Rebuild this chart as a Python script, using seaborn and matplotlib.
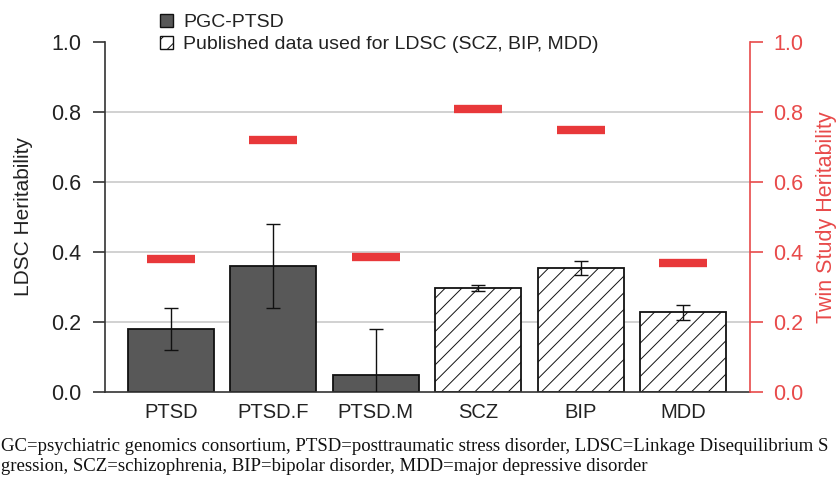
import numpy as np
import pandas as pd
import matplotlib
matplotlib.use("Agg")
import matplotlib.pyplot as plt
import seaborn as sns
from matplotlib.patches import Patch

categories = ["PTSD", "PTSD.F", "PTSD.M", "SCZ", "BIP", "MDD"]
groups = ["PGC-PTSD", "PGC-PTSD", "PGC-PTSD",
          "Published data used for LDSC (SCZ, BIP, MDD)",
          "Published data used for LDSC (SCZ, BIP, MDD)",
          "Published data used for LDSC (SCZ, BIP, MDD)"]
ldsc_h2 = [0.18, 0.36, 0.05, 0.298, 0.354, 0.228]
err_low = [0.12, 0.24, -0.08, 0.290, 0.335, 0.207]
err_high = [0.24, 0.48, 0.18, 0.306, 0.373, 0.250]
twin_h2 = [0.38, 0.72, 0.385, 0.81, 0.75, 0.37]
yticks = [0.0, 0.2, 0.4, 0.6, 0.8, 1.0]
caption = ["GC=psychiatric genomics consortium, PTSD=posttraumatic stress disorder, LDSC=Linkage Disequilibrium S",
           "gression, SCZ=schizophrenia, BIP=bipolar disorder, MDD=major depressive disorder"]

df = pd.DataFrame({"cat": categories, "h2": ldsc_h2, "group": groups,
                   "lo": err_low, "hi": err_high, "twin": twin_h2})

sns.set_style("white")
plt.rcParams["font.family"] = ["Liberation Sans", "DejaVu Sans"]
plt.rcParams["hatch.linewidth"] = 0.7

RED = "#e8383a"
RED_AX = "#e84a4a"
DARK = "#585858"
TXT = "#222222"

fig = plt.figure(figsize=(8.4, 4.78), dpi=100)
ax = fig.add_axes([105 / 840, 86 / 478, 645 / 840, 350 / 478])

g1 = groups[0]
g2 = groups[3]
sns.barplot(data=df, x="cat", y="h2", hue="group", dodge=False,
            palette={g1: DARK, g2: "white"}, width=0.84,
            edgecolor="#111111", linewidth=1.3, errorbar=None, legend=False, ax=ax)
for p in ax.patches:
    fc = p.get_facecolor()
    if fc[0] > 0.9:
        p.set_hatch("//")

xpos = np.arange(len(categories))
mid = np.array(ldsc_h2)
ax.errorbar(xpos, mid, yerr=[mid - np.array(err_low), np.array(err_high) - mid],
            fmt="none", ecolor="#111111", elinewidth=1.0, capsize=5, capthick=1.0, zorder=5)

ax.set_xlim(-0.645, 5.655)
ax.set_ylim(0, 1.0)
ax.set_yticks(yticks)
ax.set_yticklabels([f"{v:.1f}" for v in yticks], fontsize=15.5, color=TXT)
ax.tick_params(axis="y", direction="out", length=9, width=1.2, color="#333333", pad=8, left=True)
ax.tick_params(axis="x", length=0, pad=8, labelsize=14.5, labelcolor=TXT)
ax.set_xlabel("")
ax.set_ylabel("LDSC Heritability", fontsize=15, color=TXT, labelpad=13)
ax.yaxis.grid(True, color="#c9c9c9", linewidth=1.2)
ax.set_axisbelow(True)
for gl, v in zip(ax.yaxis.get_gridlines(), yticks):
    if v in (0.0, 1.0):
        gl.set_visible(False)
ax.spines["top"].set_visible(False)
ax.spines["right"].set_visible(False)
for s in ["left", "bottom"]:
    ax.spines[s].set_color("#333333")
    ax.spines[s].set_linewidth(1.2)

ax2 = ax.twinx()
ax2.set_ylim(0, 1.0)
ax2.hlines(twin_h2, xpos - 0.235, xpos + 0.235, colors=RED, linewidth=6, zorder=6)
ax2.set_yticks(yticks)
ax2.set_yticklabels([f"{v:.1f}" for v in yticks], fontsize=15.5, color=RED_AX)
ax2.tick_params(axis="y", direction="out", length=9, width=1.2, color=RED_AX, pad=8, right=True)
ax2.set_ylabel("Twin Study Heritability", fontsize=15.5, color=RED_AX, labelpad=9)
for s in ["top", "left", "bottom"]:
    ax2.spines[s].set_visible(False)
ax2.spines["right"].set_color(RED_AX)
ax2.spines["right"].set_linewidth(1.2)

handles = [Patch(facecolor=DARK, edgecolor="#111111", linewidth=1.0, label=g1),
           Patch(facecolor="white", edgecolor="#111111", linewidth=1.0, hatch="//", label=g2)]
leg = fig.legend(handles=handles, loc="upper left", bbox_to_anchor=(160 / 840, 1.0 - 14 / 478),
                 frameon=False, fontsize=14, handlelength=0.65, handleheight=0.65,
                 handletextpad=0.55, labelspacing=0.22, borderaxespad=0, borderpad=0)
for t in leg.get_texts():
    t.set_color(TXT)

fig.text(1 / 840, 1 - 451 / 478, caption[0], family="Liberation Serif", fontsize=13.5,
         color="#111111", ha="left", va="baseline")
fig.text(1 / 840, 1 - 471 / 478, caption[1], family="Liberation Serif", fontsize=13.5,
         color="#111111", ha="left", va="baseline")

fig.savefig("out.png", dpi=100)
